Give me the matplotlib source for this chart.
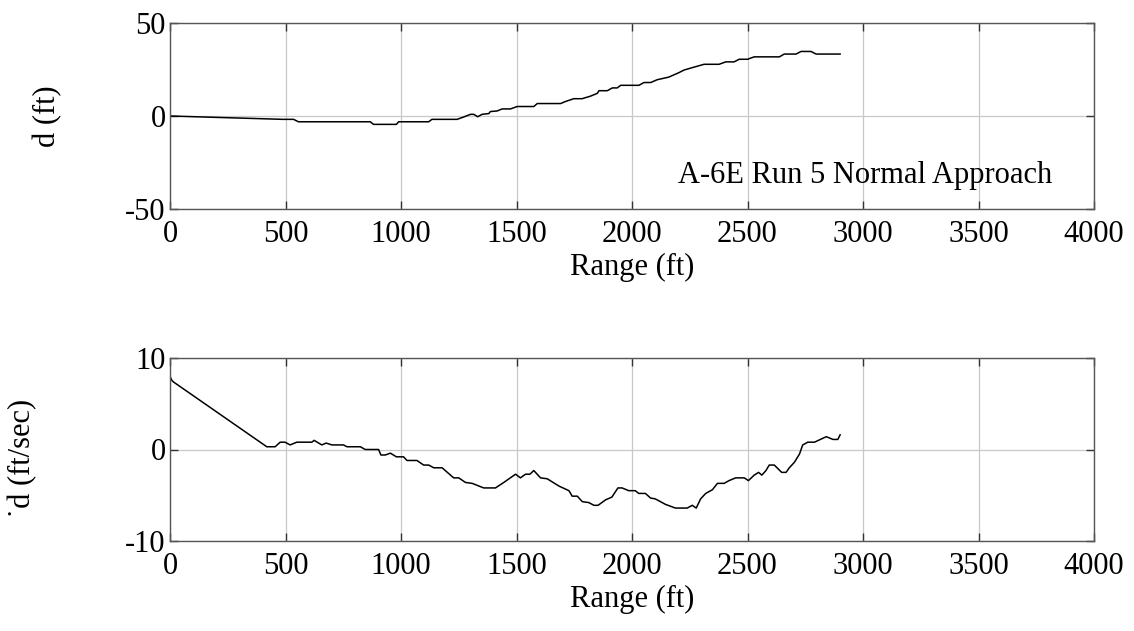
import matplotlib
matplotlib.use("Agg")
import matplotlib.pyplot as plt

plt.rcParams["font.family"] = ["Liberation Serif", "DejaVu Serif"]
plt.rcParams["font.size"] = 22

# Top panel: lateral deviation d (ft) vs range (ft)
range_d = [0, 490, 535, 556, 867, 881, 980, 990, 1120, 1134, 1243, 1272, 1301, 1315,
           1332, 1351, 1380, 1387, 1416, 1438, 1474, 1503, 1575, 1590, 1691, 1712,
           1748, 1784, 1821, 1850, 1857, 1893, 1915, 1936, 1951, 2030, 2052, 2081,
           2109, 2159, 2203, 2225, 2261, 2312, 2377, 2406, 2442, 2464, 2500, 2529,
           2638, 2659, 2710, 2732, 2775, 2797, 2901]
d_ft = [0.0, -1.8, -1.8, -3.1, -3.1, -4.5, -4.5, -3.1, -3.1, -1.8, -1.8, -0.5, 0.9, 0.9,
        -0.4, 0.9, 1.3, 2.4, 2.7, 3.8, 3.8, 5.1, 5.1, 6.7, 6.7, 7.8,
        9.3, 9.3, 10.7, 12.2, 13.6, 13.6, 15.1, 15.1, 16.5, 16.5, 18.0, 18.0,
        19.5, 20.9, 23.3, 24.7, 26.0, 27.8, 27.8, 29.1, 29.1, 30.5, 30.5, 31.8,
        31.8, 33.3, 33.3, 34.7, 34.7, 33.3, 33.3]

# Bottom panel: deviation rate (ft/sec) vs range (ft)
range_rate = [0, 7, 14, 419, 455, 477, 498, 520, 549, 614, 624, 657, 676, 701, 751, 766,
              824, 845, 903, 913, 932, 954, 980, 1011, 1026, 1069, 1098, 1120, 1142,
              1178, 1228, 1250, 1279, 1308, 1358, 1409, 1445, 1496, 1517, 1539, 1558,
              1575, 1604, 1633, 1684, 1727, 1741, 1763, 1785, 1813, 1835, 1853, 1886,
              1913, 1939, 1957, 1986, 2014, 2029, 2058, 2080, 2101, 2145, 2188, 2239,
              2261, 2278, 2297, 2319, 2348, 2370, 2399, 2420, 2449, 2486, 2504, 2529,
              2548, 2562, 2580, 2594, 2616, 2648, 2667, 2681, 2703, 2725, 2739, 2761,
              2790, 2841, 2870, 2891, 2901]
rate_ft_s = [8.0, 7.6, 7.4, 0.3, 0.3, 0.8, 0.8, 0.5, 0.8, 0.8, 1.0, 0.5, 0.7, 0.5, 0.5, 0.3,
             0.3, 0.0, 0.0, -0.6, -0.6, -0.4, -0.8, -0.8, -1.2, -1.2, -1.7, -1.7, -2.0,
             -2.0, -3.1, -3.1, -3.6, -3.7, -4.2, -4.2, -3.6, -2.7, -3.1, -2.7, -2.7,
             -2.3, -3.1, -3.2, -4.0, -4.5, -5.1, -5.1, -5.7, -5.8, -6.1, -6.1, -5.5,
             -5.2, -4.2, -4.2, -4.5, -4.5, -4.8, -4.8, -5.3, -5.4, -6.0, -6.4, -6.4,
             -6.1, -6.4, -5.4, -4.8, -4.4, -3.7, -3.7, -3.4, -3.1, -3.1, -3.4, -2.8,
             -2.5, -2.8, -2.3, -1.7, -1.7, -2.5, -2.5, -2.0, -1.4, -0.5, 0.5, 0.8,
             0.8, 1.4, 1.1, 1.1, 1.6]

x_ticks = [0, 500, 1000, 1500, 2000, 2500, 3000, 3500, 4000]

fig = plt.figure(figsize=(11.34, 6.31), dpi=100)
ax1 = fig.add_axes([170 / 1134, 1 - 209 / 631, 924 / 1134, 186 / 631])
ax2 = fig.add_axes([170 / 1134, 1 - 541 / 631, 924 / 1134, 183 / 631])


def style(ax, yticks, ylim):
    ax.set_xlim(0, 4000)
    ax.set_ylim(*ylim)
    ax.set_xticks(x_ticks)
    ax.set_yticks(yticks)
    ax.set_yticklabels([str(t) for t in yticks])
    ax.grid(True, color="#c8c8c8", linewidth=0.9)
    ax.tick_params(direction="in", length=6, width=1, top=True, right=True,
                   labelsize=22, color="#333333")
    ax.tick_params(axis="x", pad=8)
    ax.tick_params(axis="y", pad=3)
    for sp in ax.spines.values():
        sp.set_color("#555555")
        sp.set_linewidth(1.0)
    ax.set_xlabel("Range (ft)", fontsize=22, labelpad=3)


ax1.plot(range_d, d_ft, color="black", linewidth=1.1)
style(ax1, [-50, 0, 50], (-50, 50))
ax1.set_ylabel("d (ft)", fontsize=22)
ax1.yaxis.set_label_coords(-0.117, 0.5)
ax1.text(2200, -36, "A-6E Run 5 Normal Approach", fontsize=22, ha="left", va="baseline")

ax2.plot(range_rate, rate_ft_s, color="black", linewidth=1.1)
style(ax2, [-10, 0, 10], (-10, 10))
ax2.set_ylabel("\u02d9d (ft/sec)", fontsize=22)
ax2.yaxis.set_label_coords(-0.144, 0.45)

fig.savefig("out.png", dpi=100)
